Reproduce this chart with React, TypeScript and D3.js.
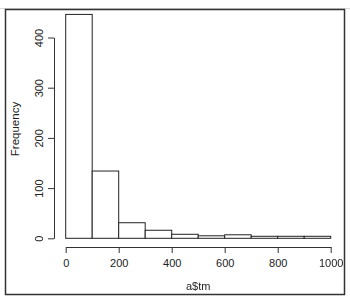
import React, { useEffect, useRef } from 'react';
import * as d3 from 'd3';

const binStarts = [0, 100, 200, 300, 400, 500, 600, 700, 800, 900];
const binWidth = 100;
const counts = [446, 134, 31, 16, 8, 5, 7, 4, 4, 4];
const xTicks = [0, 200, 400, 600, 800, 1000];
const yTicks = [0, 100, 200, 300, 400];

const width = 350;
const height = 303;
const plot = { left: 65.7, right: 330.7, top: 37.5, bottom: 238.3 };

const App = () => {
  const ref = useRef<SVGSVGElement>(null);

  useEffect(() => {
    if (!ref.current) return;
    const svg = d3.select(ref.current);
    svg.selectAll('*').remove();

    const font = 'Liberation Sans, Arial, sans-serif';

    // window frame
    svg
      .append('line')
      .attr('x1', 0)
      .attr('x2', width)
      .attr('y1', 8.5)
      .attr('y2', 8.5)
      .attr('stroke', '#d8d8d8');
    svg
      .append('rect')
      .attr('x', 5.5)
      .attr('y', 9.5)
      .attr('width', 339)
      .attr('height', 285)
      .attr('fill', 'white')
      .attr('stroke', '#333')
      .attr('stroke-width', 1.5);

    const x = d3.scaleLinear().domain([0, 1000]).range([plot.left, plot.right]);
    const y = d3.scaleLinear().domain([0, 400]).range([plot.bottom, plot.top]);

    // bars
    svg
      .append('g')
      .selectAll('rect')
      .data(binStarts)
      .enter()
      .append('rect')
      .attr('x', (d) => x(d))
      .attr('width', (d) => x(d + binWidth) - x(d))
      .attr('y', (_, i) => y(counts[i]))
      .attr('height', (_, i) => y(0) - y(counts[i]))
      .attr('fill', 'white')
      .attr('stroke', '#222')
      .attr('stroke-width', 1);

    // x axis
    const xa = svg.append('g').attr('transform', 'translate(0, 247)');
    xa.call(
      d3
        .axisBottom(x)
        .tickValues(xTicks)
        .tickFormat(d3.format('d'))
        .tickSize(6)
        .tickSizeOuter(0)
    );
    xa.select('.domain').attr('stroke', '#333');
    xa.selectAll('.tick line').attr('stroke', '#333');
    xa.selectAll('.tick text')
      .attr('font-family', font)
      .attr('font-size', 11)
      .attr('fill', '#222')
      .attr('dy', '0.71em')
      .attr('y', 12);

    // y axis
    const ya = svg.append('g').attr('transform', 'translate(54, 0)');
    ya.call(d3.axisLeft(y).tickValues(yTicks).tickSize(6).tickSizeOuter(0));
    ya.select('.domain').attr('stroke', '#333');
    ya.selectAll('.tick line').attr('stroke', '#333');
    ya.selectAll('.tick text')
      .attr('font-family', font)
      .attr('font-size', 11)
      .attr('fill', '#222')
      .attr('x', null)
      .attr('dy', null)
      .attr('transform', 'translate(-11, 0) rotate(-90)')
      .style('text-anchor', 'middle');

    // labels
    svg
      .append('text')
      .attr('x', (plot.left + plot.right) / 2)
      .attr('y', 290)
      .attr('text-anchor', 'middle')
      .attr('font-family', font)
      .attr('font-size', 11)
      .attr('fill', '#222')
      .text('a$tm');

    svg
      .append('text')
      .attr('transform', 'translate(19, 129) rotate(-90)')
      .attr('text-anchor', 'middle')
      .attr('font-family', font)
      .attr('font-size', 11.5)
      .attr('fill', '#222')
      .text('Frequency');
  }, []);

  return (
    <div style={{ position: 'fixed', left: 0, top: 0 }}>
      <svg ref={ref} width={width} height={height} style={{ display: 'block' }} />
    </div>
  );
};

export default App;
